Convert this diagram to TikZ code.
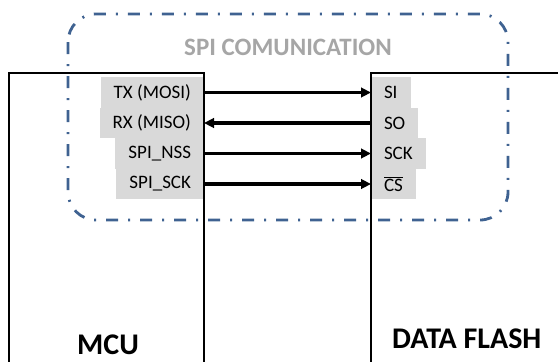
\documentclass[tikz,border=0pt]{standalone}
\usepackage{fontspec}
\setmainfont{Carlito}
\usetikzlibrary{arrows.meta}
\definecolor{spiblue}{RGB}{63,98,145}
\definecolor{padgray}{RGB}{217,217,217}
\definecolor{titlegray}{RGB}{166,166,166}
\begin{document}
\begin{tikzpicture}[x=1pt,y=-1pt,
  chip/.style={draw=black,line width=2.9pt,outer sep=0pt,inner sep=0pt,rectangle},
  pad/.style={fill=padgray,outer sep=0pt,inner ysep=0pt,minimum height=30.5pt,
    font=\fontsize{19}{22}\selectfont},
  mcupad/.style={pad,anchor=east,inner xsep=13pt},
  flashpad/.style={pad,anchor=west,inner xsep=13pt},
  sig/.style={line width=3.4pt,-{Triangle[length=10pt,width=9.5pt]}},
  chiplabel/.style={font=\fontsize{30}{34}\selectfont\bfseries,anchor=base west,inner sep=0pt},
  busframe/.style={draw=spiblue,line width=2.8pt,rounded corners=28pt,
    dash pattern=on 12pt off 10pt on 2pt off 10pt}]
\useasboundingbox (0,0) rectangle (558,362);
\clip (0,0) rectangle (558,362);

% pin labels on the MCU side
\node[mcupad] (tx)  at (204,92.5)  {TX (MOSI)};
\node[mcupad] (rx)  at (204,123)   {RX (MISO)};
\node[mcupad] (nss) at (204,153.5) {SPI\_NSS};
\node[mcupad] (sck) at (204,184)   {SPI\_SCK};

% pin labels on the flash side
\node[flashpad] (si)  at (371,92.5)  {SI};
\node[flashpad] (so)  at (371,123)   {SO};
\node[flashpad] (fck) at (371,153.5) {SCK};
\node[flashpad] (cs)  at (371,184)   {$\overline{\hbox{CS}}$};

% the two chips
\node[chip,anchor=north west,minimum width=195pt,minimum height=320pt] (mcu) at (9,73) {};
\node[chip,anchor=north west,minimum width=220pt,minimum height=320pt] (flash) at (371,73) {};

\node[chiplabel] (mcuname) at (77,354) {MCU};
\node[chiplabel] (flashname) at (392,348) {DATA FLASH};

% SPI signals
\draw[sig] (tx.east)  -- (si.west);
\draw[sig] (so.west)  -- (rx.east);
\draw[sig] (nss.east) -- (fck.west);
\draw[sig] (sck.east) -- (cs.west);

% bus frame and title
\draw[busframe] (68,14) rectangle (508,220);
\node[font=\fontsize{25}{28}\selectfont\bfseries,text=titlegray,anchor=base] (title)
  at (288,55) {SPI COMUNICATION};
\end{tikzpicture}
\end{document}
